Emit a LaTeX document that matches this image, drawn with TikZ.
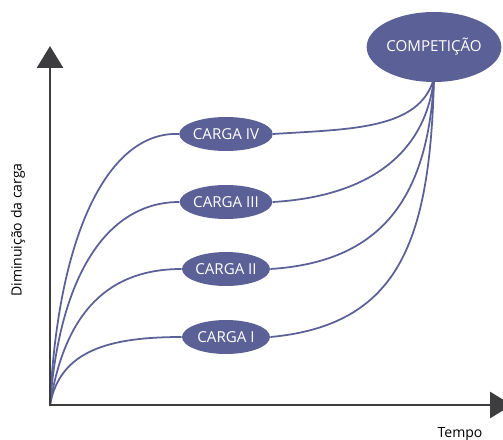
\documentclass[tikz,border=0pt]{standalone}
\usepackage{fontspec}
\setmainfont{Open Sans}
\usepackage{tikz}
\usetikzlibrary{shapes.geometric, arrows.meta, backgrounds}
\definecolor{cargablue}{HTML}{5B6197}
\definecolor{axisgray}{HTML}{3D3D3F}

\begin{document}
\begin{tikzpicture}[x=0.02cm, y=-0.02cm, every node/.style={font=\fontsize{8}{9.6}\selectfont}]
% Define styles
\tikzstyle{carga} = [ellipse, minimum width=1.76cm, minimum height=0.68cm, inner sep=0pt, fill=cargablue, text=white, font=\fontsize{8.6}{10}\selectfont]
\tikzstyle{meta} = [ellipse, minimum width=2.3cm, minimum height=1.4cm, inner sep=0pt, fill=cargablue, text=white, font=\fontsize{8.6}{10}\selectfont]
\tikzstyle{axis} = [axisgray, line width=1.7pt, -{Triangle[length=0.44cm, width=0.52cm]}]
\tikzstyle{curve} = [cargablue, line width=1pt]
\useasboundingbox (0,0) rectangle (503,439);
% Place nodes
\coordinate (o) at (50,405);
\coordinate (ytop) at (50,46);
\coordinate (xend) at (512,405);
\coordinate (top) at (434,78);
\node (comp) [meta] at (434,47) {COMPETIÇÃO};
\node (c4) [carga] at (226,134) {CARGA IV};
\node (c3) [carga] at (226,202) {CARGA III};
\node (c2) [carga] at (226,269) {CARGA II};
\node (c1) [carga] at (226,337) {CARGA I};
\node (ylab) [rotate=90] at (18,230) {Diminuição da carga};
\node (xlab) at (460,434) {Tempo};
% Draw curves
\begin{pgfonlayer}{background}
\draw [curve] (o) .. controls (58,230) and (110,131) .. (c4.west);
\draw [curve] (o) .. controls (60,270) and (110,202) .. (c3.west);
\draw [curve] (o) .. controls (65,310) and (110,269) .. (c2.west);
\draw [curve] (o) .. controls (60,350) and (110,337) .. (c1.west);
\draw [curve] (c4.east) .. controls (350,129) and (420,130) .. (top);
\draw [curve] (c3.east) .. controls (360,197) and (425,160) .. (top);
\draw [curve] (c2.east) .. controls (380,262) and (428,200) .. (top);
\draw [curve] (c1.east) .. controls (400,325) and (430,240) .. (top);
\end{pgfonlayer}
% Draw axes
\draw [axis, line cap=rect] (o) -- (ytop);
\draw [axis] (o) -- (xend);
\end{tikzpicture}
\end{document}
